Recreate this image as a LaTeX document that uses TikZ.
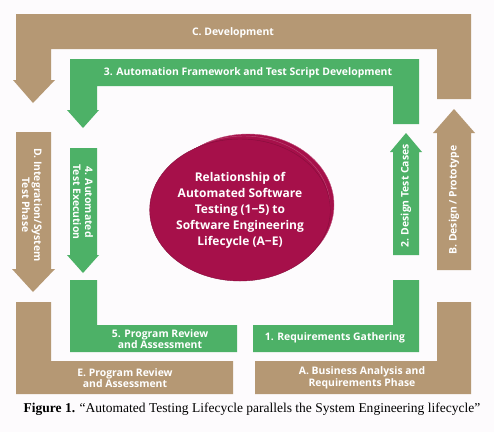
\documentclass[tikz,border=0pt]{standalone}
\usepackage{fontspec}
\setmainfont{Liberation Serif}
\newfontfamily\phasefont{Open Sans}
\usetikzlibrary{positioning}
\definecolor{phasetan}{RGB}{181,152,116}
\definecolor{stepgreen}{RGB}{77,177,103}
\definecolor{hubred}{RGB}{166,16,74}
\definecolor{paper}{RGB}{253,251,253}
\tikzset{
    tanband/.style={fill=phasetan,draw=none},
    greenband/.style={fill=stepgreen,draw=none},
    bandtext/.style={text=white,font=\phasefont\bfseries\fontsize{10.4}{11.8}\selectfont,align=center,inner sep=0pt},
    hubplate/.style={ellipse,fill=hubred,minimum width=172pt,minimum height=142pt,inner sep=0pt},
    hubtext/.style={text=white,font=\phasefont\bfseries\fontsize{12}{16}\selectfont,align=center},
    captiontext/.style={font=\fontsize{13.5}{15}\selectfont,inner sep=0pt}
}
\usetikzlibrary{shapes.geometric}
\begin{document}
\begin{tikzpicture}[x=1pt,y=-1pt]
            \fill[paper] (0,0) rectangle (494,432);
            \useasboundingbox (0,0) rectangle (494,432);
            % outer lifecycle (A-E)
            \fill[tanband] (16,14) -- (471,14) -- (471,99) -- (437,99) -- (437,49) -- (51,49) -- (51,80) -- (55,80) -- (33,103) -- (13,80) -- (16,80) -- cycle;
            \fill[tanband] (437,270) -- (437,133) -- (433,133) -- (454,109) -- (475,133) -- (471,133) -- (471,270) -- cycle;
            \fill[tanband] (437,302) -- (471,302) -- (471,394) -- (255,394) -- (255,361) -- (437,361) -- cycle;
            \fill[tanband] (16,302) -- (51,302) -- (51,361) -- (233,361) -- (233,394) -- (16,394) -- cycle;
            \fill[tanband] (16,132) -- (51,132) -- (51,269) -- (55,269) -- (33,292) -- (12,269) -- (16,269) -- cycle;
            % inner testing cycle (1-5)
            \fill[greenband] (70,59) -- (419,59) -- (419,124) -- (393,124) -- (393,86) -- (97,86) -- (97,110) -- (99,110) -- (83,128) -- (67,110) -- (70,110) -- cycle;
            \fill[greenband] (393,255) -- (393,152) -- (390,152) -- (406,133) -- (422,152) -- (419,152) -- (419,255) -- cycle;
            \fill[greenband] (393,280) -- (419,280) -- (419,352) -- (253,352) -- (253,325) -- (393,325) -- cycle;
            \fill[greenband] (70,280) -- (97,280) -- (97,325) -- (237,325) -- (237,352) -- (70,352) -- cycle;
            \fill[greenband] (70,148) -- (97,148) -- (97,255) -- (99,255) -- (83,273) -- (67,255) -- (70,255) -- cycle;
            % labels
            \node[bandtext] (devel) at (233,33) {C. Development};
            \node[bandtext,rotate=90] (design) at (454,200) {B. Design / Prototype};
            \node[bandtext] (business) at (362,378) {A. Business Analysis and\\Requirements Phase};
            \node[bandtext] (review) at (125,378) {E. Program Review\\and Assessment};
            \node[bandtext,rotate=-90] (integration) at (32,205) {D. Integration/System\\Test Phase};
            \node[bandtext] (framework) at (248,73) {3. Automation Framework and Test Script Development};
            \node[bandtext,rotate=90] (cases) at (406,196) {2. Design Test Cases};
            \node[bandtext] (gathering) at (335,338) {1. Requirements Gathering};
            \node[bandtext] (assess) at (160,339) {5. Program Review\\and Assessment};
            \node[bandtext,rotate=-90] (execution) at (83,202) {4. Automated\\Test Execution};
            % stacked hub
            \node[hubplate,draw=hubred!70!white] (plate3) at (248,205) {};
            \node[hubplate,draw=hubred!75!white] (plate2) at (244,207) {};
            \node[hubplate,draw=hubred!80!black,hubtext] (hub) at (240,210) {Relationship of\\Automated Software\\Testing (1−5) to\\Software Engineering\\Lifecycle (A−E)};
            \node[captiontext] (caption) at (252,409) {\textbf{Figure 1.} “Automated Testing Lifecycle parallels the System Engineering lifecycle”};
        \end{tikzpicture}
\end{document}
